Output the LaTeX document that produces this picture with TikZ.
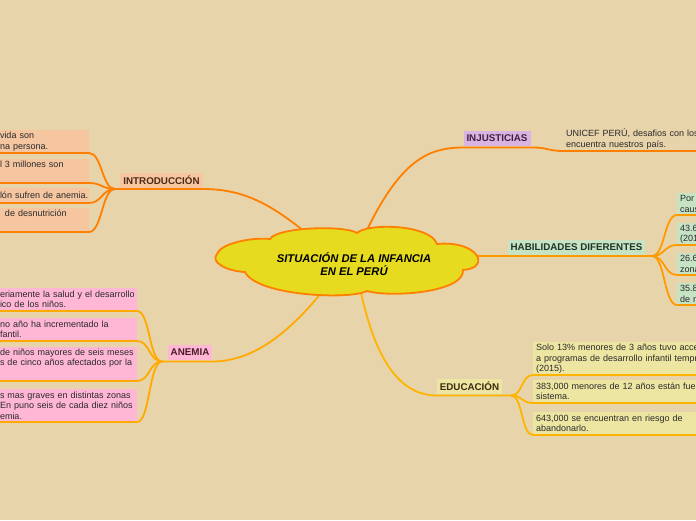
\documentclass[tikz,border=0pt]{standalone}
\usepackage{fontspec}
\setmainfont{Liberation Sans}
\usetikzlibrary{calc}
\pgfdeclarelayer{bg}
\pgfsetlayers{bg,main}
\definecolor{bgc}{HTML}{E8D4AA}
\definecolor{cloudF}{HTML}{E6DB1E}
\definecolor{cloudL}{HTML}{FF8000}
\definecolor{introF}{HTML}{F5C6A0}
\definecolor{injF}{HTML}{D9B4E2}
\definecolor{habF}{HTML}{C6E3C4}
\definecolor{eduF}{HTML}{EDE6A2}
\definecolor{anF}{HTML}{FFB7D5}
\definecolor{introL}{HTML}{FF7F00}
\definecolor{injL}{HTML}{FF7F00}
\definecolor{habL}{HTML}{FF9A00}
\definecolor{eduL}{HTML}{FFB400}
\definecolor{anL}{HTML}{FFAA00}
\definecolor{introT}{HTML}{4B2A17}
\definecolor{injT}{HTML}{3F2040}
\definecolor{habT}{HTML}{1F3326}
\definecolor{eduT}{HTML}{3D2A12}
\definecolor{anT}{HTML}{4A1A25}
\definecolor{kidtext}{HTML}{2A2A2A}
\newcommand\labfont{\fontsize{9.8}{12}\selectfont\bfseries}
\newcommand\kidfont{\fontsize{9}{10.5}\selectfont}
\newcommand\kst{\rule{0pt}{8.5pt}}
\begin{document}
\begin{tikzpicture}[x=1pt,y=-1pt,
  conn/.style={line width=1.8pt, line cap=round},
  lab/.style={fill=#1, inner xsep=3pt, inner ysep=0pt, outer xsep=0pt, outer ysep=1.5pt, minimum height=15pt, font=\labfont},
  kidL/.style={fill=#1, inner xsep=3pt, inner ysep=0pt, outer xsep=0pt, outer ysep=1.5pt, anchor=south east, align=left, font=\kidfont, text=kidtext},
  kidR/.style={fill=#1, inner xsep=3pt, inner ysep=0pt, outer xsep=0pt, outer ysep=1.5pt, anchor=south west, align=left, text width=220pt, font=\kidfont, text=kidtext}
]
\useasboundingbox (0,0) rectangle (696,520);

% cloud rim coordinates
\coordinate (cIntro) at (310,236);
\coordinate (cInj) at (364,236);
\coordinate (cHab) at (470,256);
\coordinate (cEdu) at (360,288);
\coordinate (cAn) at (326,287);
% branch points
\coordinate (introB) at (115,189);
\coordinate (injB) at (533,147.5);
\coordinate (habB) at (652,256);
\coordinate (eduB) at (511,395.5);
\coordinate (anB) at (162,361.5);

% central cloud
\draw[line width=1.8pt, draw=cloudL, fill=cloudF]
  (217,254) .. controls (220,244) and (250,237) .. (270,239)
  .. controls (277,227) and (345,225) .. (357,233)
  .. controls (367,223) and (430,224) .. (437,244)
  .. controls (478,240) and (492,268) .. (463,270)
  .. controls (465,292) and (392,298) .. (367,291)
  .. controls (350,300) and (257,296) .. (245,272)
  .. controls (226,271) and (210,262) .. (217,254) -- cycle;
\node[font=\fontsize{11.2}{13}\selectfont\bfseries\itshape, align=center, text=black] (center) at (354,264) {SITUACIÓN DE LA INFANCIA\\EN EL PERÚ};

% main topics
\node[lab=introF, text=introT] (intro) at (161.5,180) {INTRODUCCIÓN};
\node[lab=injF, text=injT] (inj) at (497,138.5) {INJUSTICIAS};
\node[lab=habF, text=habT] (hab) at (576.5,247) {HABILIDADES DIFERENTES};
\node[lab=eduF, text=eduT] (edu) at (469.5,386.5) {EDUCACIÓN};
\node[lab=anF, text=anT] (an) at (190,352.5) {ANEMIA};

% introduccion children
\node[kidL=introF, text width=86pt, minimum height=22pt] (c1) at (89,153) {\kst\mbox{vida son}\\\mbox{na persona.}};
\node[kidL=introF, text width=86pt, minimum height=22pt] (c2) at (89,183) {\kst\mbox{l 3 millones son}\\\strut};
\node[kidL=introF, text width=86pt, minimum height=14pt] (c3) at (89,203) {\kst\mbox{lón sufren de anemia.}};
\node[kidL=introF, text width=86pt, minimum height=22pt] (c4) at (89,232) {\kst\mbox{\hspace{5pt}de desnutrición}\\\strut};

% anemia children
\node[kidL=anF, text width=134pt, minimum height=22pt] (a1) at (137,311) {\kst\mbox{eriamente la salud y el desarrollo}\\\mbox{ico de los niños.}};
\node[kidL=anF, text width=134pt, minimum height=22pt] (a2) at (137,341) {\kst\mbox{no año ha incrementado la}\\\mbox{fantil.}};
\node[kidL=anF, text width=134pt, minimum height=32pt] (a3) at (137,381) {\kst\mbox{de niños mayores de seis meses}\\\mbox{s de cinco años afectados por la}\\\strut};
\node[kidL=anF, text width=134pt, minimum height=32pt] (a4) at (137,422) {\kst\mbox{s mas graves en distintas zonas}\\\mbox{En puno seis de cada diez niños}\\\mbox{emia.}};

% injusticias child
\node[anchor=south west, inner xsep=3pt, inner ysep=0pt, outer xsep=0pt, outer ysep=1.5pt, minimum height=22pt, align=left, text width=220pt, font=\kidfont, text=kidtext] (unicef) at (563,151) {\kst UNICEF PERÚ, desafios con los q\\encuentra nuestros país.};

% habilidades children
\node[kidR=habF, minimum height=21pt] (h1) at (677,215) {\kst Por\\caus};
\node[kidR=habF, minimum height=21pt] (h2) at (677,245) {\kst 43.6\\(201};
\node[kidR=habF, minimum height=21pt] (h3) at (677,275) {\kst 26.6\\zona};
\node[kidR=habF, minimum height=21pt] (h4) at (677,305) {\kst 35.8\\de n};

% educacion children
\node[kidR=eduF, minimum height=31pt] (e1) at (533,375) {\kst Solo 13\% menores de 3 años tuvo acce\\a programas de desarrollo infantil tempr\\(2015).};
\node[kidR=eduF, minimum height=22pt] (e2) at (533,403) {\kst 383,000 menores de 12 años están fuera d\\sistema.};
\node[kidR=eduF, minimum height=22pt] (e3) at (533,435) {\kst 643,000 se encuentran en riesgo de\\abandonarlo.};

\begin{pgfonlayer}{bg}
\fill[bgc] (0,0) rectangle (696,520);
% main connectors
\draw[conn, introL] (cIntro) .. controls (272,205) and (245,189) .. (intro.south east) -- (intro.south west) -- (introB);
\draw[conn, injL] (cInj) .. controls (400,160) and (428,147.5) .. (inj.south west) -- (inj.south east) -- (injB);
\draw[conn, habL] (cHab) -- (hab.south west) -- (hab.south east) -- (habB);
\draw[conn, eduL] (cEdu) .. controls (373,350) and (395,395.5) .. (edu.south west) -- (edu.south east) -- (eduB);
\draw[conn, anL] (cAn) .. controls (292,330) and (255,361.5) .. (an.south east) -- (an.south west) -- (anB);
% children connectors
\foreach \k in {c1,c2,c3,c4}
  \draw[conn, introL] (introB) .. controls +(-13,0) and +(13,0) .. (\k.south east) -- (\k.south west);
\foreach \k in {a1,a2,a3,a4}
  \draw[conn, anL] (anB) .. controls +(-13,0) and +(13,0) .. (\k.south east) -- (\k.south west);
\draw[conn, injL] (injB) .. controls +(14,0) and +(-14,0) .. (unicef.south west) -- (unicef.south east);
\foreach \k in {h1,h2,h3,h4}
  \draw[conn, habL] (habB) .. controls +(13,0) and +(-13,0) .. (\k.south west) -- (\k.south east);
\foreach \k in {e1,e2,e3}
  \draw[conn, eduL] (eduB) .. controls +(12,0) and +(-12,0) .. (\k.south west) -- (\k.south east);
\end{pgfonlayer}
\end{tikzpicture}
\end{document}
